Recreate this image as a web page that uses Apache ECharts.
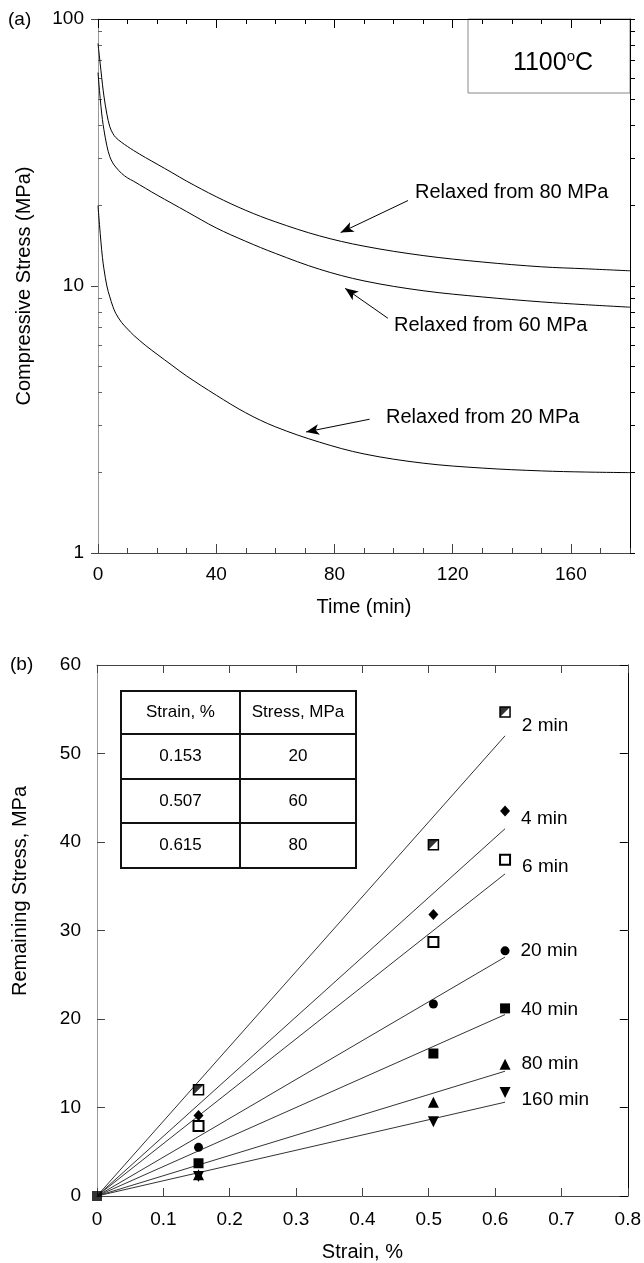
<!DOCTYPE html>
<html><head><meta charset="utf-8">
<script src="https://cdn.jsdelivr.net/npm/echarts@6/dist/echarts.min.js"></script>
<style>html,body{margin:0;padding:0;background:#fff}#c{width:644px;height:1263px}</style>
</head><body><div id="c"></div>
<script>
// ---------- (a) stress relaxation curves ----------
const timeA = [0,0.5,1,1.5,2,3,4,5,6,8,10,12,16,20,25,30,40,50,60,75,90,110,130,150,165,180];
const relax80 = [81,72,64,57,51.5,44,39.5,37.3,36,34.5,33.3,32.2,30.3,28.6,26.6,24.7,21.6,19.2,17.4,15.4,14.1,13.0,12.3,11.8,11.6,11.4];
const relax60 = [63,54,47,42,38.5,33.5,30.5,28.9,27.9,26.4,25.4,24.7,23.25,21.9,20.4,19.0,16.5,14.7,13.25,11.55,10.45,9.6,9.1,8.72,8.51,8.33];
const relax20 = [20,17,14.6,12.8,11.6,10,9.1,8.4,7.9,7.3,6.9,6.55,6.0,5.55,5.05,4.6,3.9,3.35,2.97,2.6,2.35,2.17,2.08,2.03,2.01,2.0];
const timeTicks = [0,40,80,120,160];
const stressTicksA = [1,10,100];
const minorStressTicksA = [2,3,4,5,6,7,8,9,20,30,40,50,60,70,80,90];

// ---------- (b) remaining stress vs strain ----------
const strainPts = [0.153,0.507,0.615];
const holdTimes = ['2 min','4 min','6 min','20 min','40 min','80 min','160 min'];
const rem2   = [12.0,39.7,54.7];
const rem4   = [9.1,31.8,43.5];
const rem6   = [7.9,28.7,38.0];
const rem20  = [5.5,21.7,27.7];
const rem40  = [3.7,16.1,21.2];
const rem80  = [2.4,10.6,14.9];
const rem160 = [2.2,8.4,11.7];
const originStrain = [0];
const originStress = [0];
const fitStrain = 0.615;
const fitEnd = [52.0,41.5,36.4,27.0,20.5,14.1,10.6];
const tableHead = ['Strain, %','Stress, MPa'];
const tableStrain = ['0.153','0.507','0.615'];
const tableStress = ['20','60','80'];

const FONT = '"Liberation Sans", Arial, Helvetica, sans-serif';
const chart = echarts.init(document.getElementById('c'));

const remAll = [rem2,rem4,rem6,rem20,rem40,rem80,rem160];
const labelDy = [14,8,7,0,1,0,7];
const markerDefs = [
  {symbol:'rect', size:10, color:'#fff', border:'#000', bw:1.5},
  {symbol:'diamond', size:[10,11], color:'#000'},
  {symbol:'rect', size:10, color:'#fff', border:'#000', bw:2},
  {symbol:'circle', size:9, color:'#000'},
  {symbol:'rect', size:10, color:'#000'},
  {symbol:'triangle', size:11, color:'#000'},
  {symbol:'triangle', size:11, color:'#000', rotate:180}
];

const seriesB = [];
holdTimes.forEach((name,i)=>{
  seriesB.push({
    type:'line', xAxisIndex:4, yAxisIndex:3, symbol:'none', silent:true,
    lineStyle:{color:'#333', width:1}, data:[[0,0],[fitStrain, fitEnd[i]]], z:2
  });
  const m = markerDefs[i];
  seriesB.push({
    type:'scatter', name:name, xAxisIndex:4, yAxisIndex:3, z:3,
    symbol:m.symbol, symbolSize:m.size, symbolRotate:m.rotate||0,
    itemStyle:{color:m.color, borderColor:m.border||m.color, borderWidth:m.bw||0, opacity:1},
    data: strainPts.map((s,j)=>{
      const d = {value:[s, remAll[i][j]]};
      if (j === strainPts.length-1) {
        d.label = {show:true, position:'right', distance:11, offset:[0,labelDy[i]],
          formatter:name, fontSize:19, color:'#000', fontFamily:FONT};
      }
      return d;
    })
  });
  if (i === 0) {
    seriesB.push({
      type:'scatter', xAxisIndex:4, yAxisIndex:3, z:4,
      symbol:'path://M0,0 L10,0 L0,10 Z', symbolSize:10, symbolKeepAspect:true,
      itemStyle:{color:'#000'},
      data: strainPts.map((s,j)=>[s, rem2[j]])
    });
  }
});
seriesB.push({
  type:'scatter', xAxisIndex:4, yAxisIndex:3, z:3, symbol:'rect', symbolSize:10,
  itemStyle:{color:'#000'}, data: originStrain.map((s,j)=>[s, originStress[j]])
});

function arrowLine(from, to){
  return {
    silent:true, symbol:['none','arrow'], symbolSize:[8,13],
    lineStyle:{color:'#000', width:1, type:'solid'}, label:{show:false},
    emphasis:{disabled:true},
    data:[[{coord:from},{coord:to}]]
  };
}

const seriesA = [
  {data:relax80, arrow:arrowLine([104.9,20.9],[82.1,15.85])},
  {data:relax60, arrow:arrowLine([98.1,7.57],[83.6,9.8])},
  {data:relax20, arrow:arrowLine([91.9,3.17],[70.4,2.84])}
].map(s=>({
  type:'line', xAxisIndex:0, yAxisIndex:0, symbol:'none', smooth:0.35,
  lineStyle:{color:'#000', width:1}, data: timeA.map((t,i)=>[t, s.data[i]]),
  markLine: s.arrow, silent:true
}));

const tickTxt = {fontSize:19, color:'#000', fontFamily:FONT};
const noSplit = {show:false};

const option = {
  animation:false,
  backgroundColor:'#fff',
  textStyle:{fontFamily:FONT},
  grid:[
    {left:98, top:19, width:532, height:534},
    {left:97, top:665, width:533, height:532}
  ],
  xAxis:[
    {gridIndex:0, type:'value', position:'bottom', min:0, max:180, interval:10,
     axisLine:{onZero:false, lineStyle:{color:'#444'}},
     axisTick:{inside:true, length:5, lineStyle:{color:'#444'}},
     axisLabel:{customValues:timeTicks, margin:12, ...tickTxt},
     splitLine:noSplit,
     name:'Time (min)', nameLocation:'middle', nameGap:44,
     nameTextStyle:{fontSize:20, color:'#000', fontFamily:FONT}},
    {gridIndex:0, type:'value', position:'bottom', min:0, max:180,
     axisLine:{show:false}, axisTick:{inside:true, length:9, customValues:timeTicks, lineStyle:{color:'#444'}},
     axisLabel:{show:false}, splitLine:noSplit},
    {gridIndex:0, type:'value', position:'top', min:0, max:180, interval:10,
     axisLine:{onZero:false, lineStyle:{color:'#000'}},
     axisTick:{inside:true, length:5, lineStyle:{color:'#000'}},
     axisLabel:{show:false}, splitLine:noSplit},
    {gridIndex:0, type:'value', position:'top', min:0, max:180,
     axisLine:{show:false}, axisTick:{inside:true, length:9, customValues:timeTicks, lineStyle:{color:'#000'}},
     axisLabel:{show:false}, splitLine:noSplit},
    {gridIndex:1, type:'value', position:'bottom', min:0, max:0.8, interval:0.1,
     axisLine:{onZero:false, lineStyle:{color:'#444'}},
     axisTick:{inside:true, length:8, lineStyle:{color:'#444'}},
     axisLabel:{margin:14, ...tickTxt}, splitLine:noSplit,
     name:'Strain, %', nameLocation:'middle', nameGap:46,
     nameTextStyle:{fontSize:20, color:'#000', fontFamily:FONT}},
    {gridIndex:1, type:'value', position:'top', min:0, max:0.8, interval:0.1,
     axisLine:{onZero:false, lineStyle:{color:'#444'}},
     axisTick:{inside:true, length:8, lineStyle:{color:'#444'}},
     axisLabel:{show:false}, splitLine:noSplit}
  ],
  yAxis:[
    {gridIndex:0, type:'log', logBase:10, position:'left', min:1, max:100,
     axisLine:{onZero:false, lineStyle:{color:'#999'}},
     axisTick:{inside:false, length:7, customValues:stressTicksA, lineStyle:{color:'#444'}},
     axisLabel:{customValues:stressTicksA, margin:14, ...tickTxt}, splitLine:noSplit,
     name:'Compressive Stress (MPa)', nameLocation:'middle', nameGap:64, nameRotate:90,
     nameTextStyle:{fontSize:20, color:'#000', fontFamily:FONT}},
    {gridIndex:0, type:'log', logBase:10, position:'left', min:1, max:100,
     axisLine:{show:false},
     axisTick:{inside:true, length:4, customValues:minorStressTicksA, lineStyle:{color:'#666'}},
     axisLabel:{show:false}, splitLine:noSplit},
    {gridIndex:0, type:'log', logBase:10, position:'right', min:1, max:100,
     axisLine:{onZero:false, lineStyle:{color:'#000'}},
     axisTick:{inside:false, length:5, customValues:minorStressTicksA.concat(stressTicksA), lineStyle:{color:'#000'}},
     axisLabel:{show:false}, splitLine:noSplit},
    {gridIndex:1, type:'value', position:'left', min:0, max:60, interval:10,
     axisLine:{onZero:false, lineStyle:{color:'#999'}},
     axisTick:{inside:true, length:8, lineStyle:{color:'#444'}},
     axisLabel:{margin:16, ...tickTxt}, splitLine:noSplit},
    {gridIndex:1, type:'value', position:'right', min:0, max:60, interval:10,
     axisLine:{onZero:false, lineStyle:{color:'#000'}},
     axisTick:{inside:true, length:8, lineStyle:{color:'#000'}},
     axisLabel:{show:false}, splitLine:noSplit}
  ],
  series: seriesA.concat(seriesB),
  graphic: []
};

const g = [];
const txt = (text, x, y, size, extra) => Object.assign({type:'text', x, y, silent:true,
  style:{text, fontSize:size, fill:'#000', fontFamily:FONT, align:'left', verticalAlign:'middle'}}, extra||{});
g.push(txt('(a)', 8, 20, 19));
g.push(txt('(b)', 10, 665, 19));
g.push({type:'rect', shape:{x:468, y:19, width:162, height:74}, style:{fill:'none', stroke:'#888', lineWidth:1}, silent:true});
g.push({type:'text', x:553, y:63, silent:true, style:{
  text:'1100{s|o}C', fontSize:25, fill:'#000', fontFamily:FONT, align:'center', verticalAlign:'middle',
  rich:{s:{fontSize:15, verticalAlign:'top', padding:[0,0,12,0], fontFamily:FONT, fill:'#000'}}}});
g.push(txt('Relaxed from 80 MPa', 415, 192, 20));
g.push(txt('Relaxed from 60 MPa', 394, 325, 20));
g.push(txt('Relaxed from 20 MPa', 386, 417, 20));
g.push({type:'text', x:20, y:891, rotation:Math.PI/2, silent:true,
  style:{text:'Remaining Stress, MPa', fontSize:20, fill:'#000', fontFamily:FONT, align:'center', verticalAlign:'middle'}});

// table
const tx0 = 121, tx1 = 240, tx2 = 356, rowY = [691, 734, 779, 823, 868];
const tableRows = [tableHead].concat(tableStrain.map((s,i)=>[s, tableStress[i]]));
g.push({type:'rect', shape:{x:tx0, y:rowY[0], width:tx2-tx0, height:rowY[4]-rowY[0]},
  style:{fill:'#fff', stroke:'#111', lineWidth:2}, silent:true, z:10});
for (let r=1;r<4;r++) g.push({type:'line', shape:{x1:tx0, y1:rowY[r], x2:tx2, y2:rowY[r]}, style:{stroke:'#111', lineWidth:2}, silent:true, z:11});
g.push({type:'line', shape:{x1:tx1, y1:rowY[0], x2:tx1, y2:rowY[4]}, style:{stroke:'#111', lineWidth:2}, silent:true, z:11});
tableRows.forEach((row,r)=>{
  const cy = (rowY[r]+rowY[r+1])/2;
  g.push({type:'text', x:(tx0+tx1)/2, y:cy, silent:true, z:12,
    style:{text:row[0], fontSize:17, fill:'#000', fontFamily:FONT, align:'center', verticalAlign:'middle'}});
  g.push({type:'text', x:(tx1+tx2)/2, y:cy, silent:true, z:12,
    style:{text:row[1], fontSize:17, fill:'#000', fontFamily:FONT, align:'center', verticalAlign:'middle'}});
});
option.graphic = g;
chart.setOption(option);
</script></body></html>
